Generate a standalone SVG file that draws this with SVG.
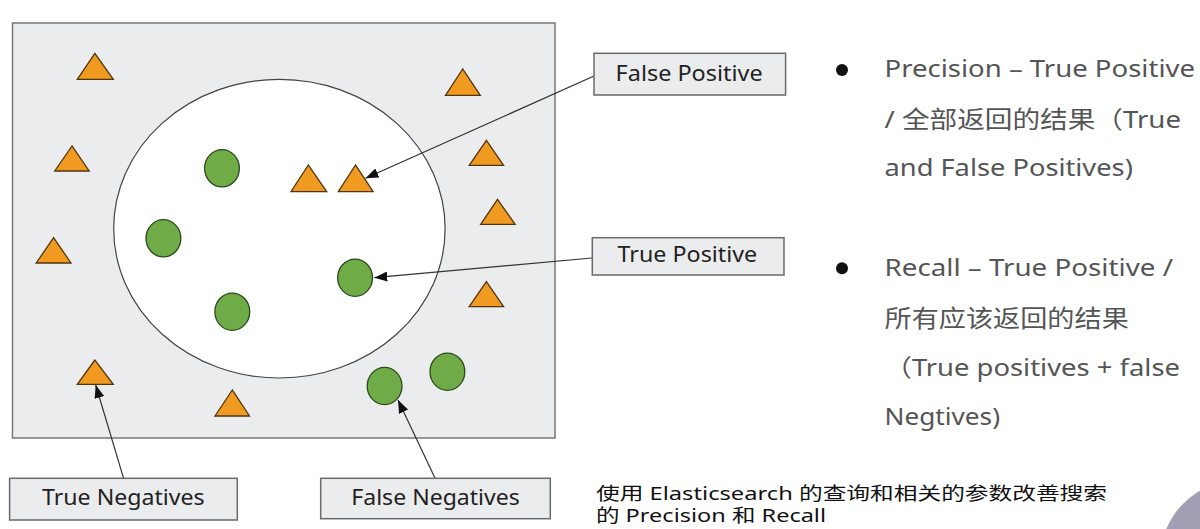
<svg xmlns="http://www.w3.org/2000/svg" width="1200" height="529" viewBox="0 0 1200 529">
<style>
.tri{fill:#f09a22;stroke:#4f3610;stroke-width:1.3}
.dot{fill:#6fab47;stroke:#2c4a1c;stroke-width:1.3}
.box{fill:#ebeced;stroke:#6a6a6a;stroke-width:1.5}
.lbl{font-family:"Noto Sans","Liberation Sans",sans-serif;font-size:22px;fill:#222}
.side{font-family:"Noto Sans","Noto Sans CJK SC",sans-serif;font-size:24px;fill:#555}
.cap{font-family:"Noto Sans","Noto Sans CJK SC",sans-serif;font-size:18px;fill:#111}
.conn{stroke:#333;stroke-width:1.2;fill:none;marker-end:url(#arr)}
</style>
<defs>
<marker id="arr" markerUnits="userSpaceOnUse" markerWidth="14" markerHeight="10" refX="13" refY="5" orient="auto">
<path d="M0,0 L13,5 L0,10 z" fill="#111"/>
</marker>
</defs>
<rect width="1200" height="529" fill="#ffffff"/>
<g id="universe">
<rect x="12.5" y="23" width="542.5" height="415" fill="#ebeced" stroke="#777" stroke-width="1.5"/>
<ellipse cx="279.4" cy="228.7" rx="165.7" ry="149.3" fill="#ffffff" stroke="#444" stroke-width="1.2"/>
</g>
<g id="triangles">
<polygon class="tri" points="94.9,53.3 77.3,79.3 113.3,79.3"/>
<polygon class="tri" points="462.7,69 445.5,95.3 480.3,95.3"/>
<polygon class="tri" points="72,146 54.7,171 89.2,171"/>
<polygon class="tri" points="308.3,165 291,191.7 326.7,191.7"/>
<polygon class="tri" points="355.5,165 338.3,191.7 373.1,191.7"/>
<polygon class="tri" points="486.4,140.3 469.2,165.3 503.6,165.3"/>
<polygon class="tri" points="497.5,199.3 480.7,224.3 515.1,224.3"/>
<polygon class="tri" points="53.6,237.7 36.2,263 71,263"/>
<polygon class="tri" points="486.4,281.7 469.2,306.7 503.6,306.7"/>
<polygon class="tri" points="94.9,360 77.3,384.3 113.3,384.3"/>
<polygon class="tri" points="232.3,390 215,416 249.5,416"/>
</g>
<g id="circles">
<ellipse class="dot" cx="222" cy="168.3" rx="17.4" ry="18.6"/>
<ellipse class="dot" cx="163.4" cy="238.3" rx="17.4" ry="18.6"/>
<ellipse class="dot" cx="355.1" cy="277.7" rx="17.4" ry="18.6"/>
<ellipse class="dot" cx="232.3" cy="311.7" rx="17.4" ry="18.6"/>
<ellipse class="dot" cx="384.6" cy="386" rx="17.4" ry="18.6"/>
<ellipse class="dot" cx="447.4" cy="371.7" rx="17.4" ry="18.6"/>
</g>
<g id="connectors">
<path class="conn" d="M594,76 L365.5,178.3"/>
<path class="conn" d="M592,258 L374.3,277.7"/>
<path class="conn" d="M123.6,478.3 L95.7,385"/>
<path class="conn" d="M435.1,478.3 L398,400"/>
</g>
<g id="false-positive">
<rect class="box" x="594" y="53.3" width="191.6" height="41.7"/>
<text class="lbl" x="615.6" y="80.7" textLength="147" lengthAdjust="spacingAndGlyphs">False Positive</text>
</g>
<g id="true-positive">
<rect class="box" x="592.3" y="237.7" width="191.7" height="37.3"/>
<text class="lbl" x="617.6" y="262.3" textLength="139.6" lengthAdjust="spacingAndGlyphs">True Positive</text>
</g>
<g id="true-negatives">
<rect class="box" x="9.6" y="478.3" width="227.7" height="41.7"/>
<text class="lbl" x="42" y="505" textLength="162.7" lengthAdjust="spacingAndGlyphs">True Negatives</text>
</g>
<g id="false-negatives">
<rect class="box" x="320.7" y="478.3" width="229.6" height="40.4"/>
<text class="lbl" x="351.3" y="505" textLength="168.4" lengthAdjust="spacingAndGlyphs">False Negatives</text>
</g>
<g id="precision">
<circle cx="842" cy="70" r="6" fill="#111"/>
<text class="side" x="884.5" y="76.7" textLength="310.5" lengthAdjust="spacingAndGlyphs">Precision – True Positive</text>
<text class="side" x="884.5" y="128.3" textLength="296.5" lengthAdjust="spacingAndGlyphs">/ 全部返回的结果（True</text>
<text class="side" x="884.5" y="175.7" textLength="248.3" lengthAdjust="spacingAndGlyphs">and False Positives)</text>
</g>
<g id="recall">
<circle cx="842" cy="268.3" r="6" fill="#111"/>
<text class="side" x="884.5" y="276" textLength="288.5" lengthAdjust="spacingAndGlyphs">Recall – True Positive /</text>
<text class="side" x="884.5" y="326.7" textLength="244.3" lengthAdjust="spacingAndGlyphs">所有应该返回的结果</text>
<text class="side" x="884.5" y="375.7" textLength="295.5" lengthAdjust="spacingAndGlyphs">（True positives + false</text>
<text class="side" x="884.5" y="425" textLength="115.5" lengthAdjust="spacingAndGlyphs">Negtives)</text>
</g>
<g id="caption">
<text class="cap" x="596" y="499.5" textLength="511" lengthAdjust="spacingAndGlyphs">使用 Elasticsearch 的查询和相关的参数改善搜索</text>
<text class="cap" x="596" y="521.5" textLength="230" lengthAdjust="spacingAndGlyphs">的 Precision 和 Recall</text>
</g>
<circle cx="1240" cy="560" r="80" fill="#a09fb4"/>
</svg>
